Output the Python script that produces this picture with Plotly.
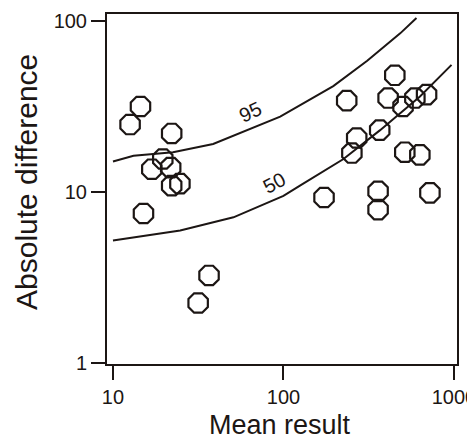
import math
import plotly.graph_objects as go

# Data points (mean result, absolute difference)
mean_result = [12.6, 14.5, 15.1, 16.9, 19.6, 21.8, 22.1, 22.1, 24.7, 36.6, 31.6,
               173, 235, 252, 269, 367, 359, 359, 411, 450, 503, 590, 691, 515, 631, 723]
abs_diff = [24.8, 31.6, 7.5, 13.6, 15.6, 13.9, 22.0, 10.9, 11.2, 3.26, 2.25,
            9.3, 34.2, 16.9, 20.7, 23.0, 10.1, 7.9, 35.4, 48.1, 31.6, 35.4, 37.1, 17.1, 16.5, 9.9]

# 95 percentile curve
c95_x = [10, 13.2, 22.5, 38.7, 95.7, 196, 310, 484, 603]
c95_y = [15.1, 16.3, 17.1, 19.1, 27.6, 41.6, 58.5, 84.5, 104]

# 50 percentile curve
c50_x = [10, 24.8, 50.9, 100, 125, 225, 369, 632, 968]
c50_y = [5.22, 5.97, 7.12, 9.5, 10.9, 15.6, 23.0, 36.2, 55.3]

curve_labels = ["95", "50"]
label_x = [63.8, 88.1]
label_y = [29.5, 11.35]
label_angle = [-25, -28]

x_major = [10, 100, 1000]
x_major_text = ["10", "100", "1000"]
x_minor = [20, 30, 40, 50, 60, 70, 80, 90, 200, 300, 400, 500, 600, 700, 800, 900]
y_major = [1, 10, 100]
y_major_text = ["1", "10", "100"]
y_minor = [2, 3, 4, 5, 6, 7, 8, 9, 20, 30, 40, 50, 60, 70, 80, 90]

X_RANGE = [0.965, 3.018]
Y_RANGE = [-0.004, 2.04]

INK = "#1c1614"
FONT = "Arial, Liberation Sans, sans-serif"

# The page body has an 8px margin; figure is sized so the plot lands in place.
# Width extends past the window so the "1000" label is clipped like the original.
W, H = 490, 432
ML, MR, MT, MB = 99, 41, 6, 76
PW, PH = W - ML - MR, H - MT - MB
XS = (X_RANGE[1] - X_RANGE[0]) / PW   # log units per pixel
YS = (Y_RANGE[1] - Y_RANGE[0]) / PH

fig = go.Figure()
fig.add_trace(go.Scatter(x=c95_x, y=c95_y, mode="lines",
                         line=dict(color=INK, width=2), hoverinfo="skip"))
fig.add_trace(go.Scatter(x=c50_x, y=c50_y, mode="lines",
                         line=dict(color=INK, width=2), hoverinfo="skip"))
fig.add_trace(go.Scatter(x=mean_result, y=abs_diff, mode="markers",
                         marker=dict(symbol="octagon-open", size=21,
                                     color=INK, line=dict(color=INK, width=2.2))))

# minor ticks, placed just outside the axes
fig.add_trace(go.Scatter(x=x_minor, y=[10 ** (Y_RANGE[0] - 5 * YS)] * len(x_minor),
                         mode="markers", cliponaxis=False, hoverinfo="skip",
                         marker=dict(symbol="line-ns", size=8,
                                     line=dict(color=INK, width=2))))
fig.add_trace(go.Scatter(x=[10 ** (X_RANGE[0] - 4.5 * XS)] * len(y_minor), y=y_minor,
                         mode="markers", cliponaxis=False, hoverinfo="skip",
                         marker=dict(symbol="line-ew", size=7,
                                     line=dict(color=INK, width=2))))

for t, lx, ly, ang in zip(curve_labels, label_x, label_y, label_angle):
    fig.add_annotation(x=math.log10(lx), y=math.log10(ly), xref="x", yref="y",
                       text=t, showarrow=False, textangle=ang,
                       font=dict(family=FONT, size=20, color=INK),
                       xanchor="center", yanchor="middle")

# axis titles (positions in viewport pixels relative to plot area)
fig.add_annotation(x=(280 - 107) / PW, y=(364 - 425) / PH, xref="paper", yref="paper",
                   text="Mean result", showarrow=False,
                   font=dict(family=FONT, size=27, color=INK),
                   xanchor="center", yanchor="middle")
fig.add_annotation(x=(26 - 107) / PW, y=(364 - 182) / PH, xref="paper", yref="paper",
                   text="Absolute difference", showarrow=False, textangle=-90,
                   font=dict(family=FONT, size=30, color=INK),
                   xanchor="center", yanchor="middle")

axis_common = dict(type="log", showgrid=False, zeroline=False, showline=True,
                   linecolor=INK, linewidth=2, mirror=True, ticks="outside",
                   tickmode="array", ticklen=14, tickwidth=2, tickcolor=INK,
                   tickfont=dict(family=FONT, size=20, color=INK))

fig.update_xaxes(range=X_RANGE, tickvals=x_major, ticktext=x_major_text, **axis_common)
fig.update_yaxes(range=Y_RANGE, tickvals=y_major, ticktext=y_major_text, **axis_common)

fig.update_layout(width=W, height=H, showlegend=False,
                  margin=dict(l=ML, r=MR, t=MT, b=MB, autoexpand=False),
                  plot_bgcolor="white", paper_bgcolor="white")

fig.write_html("out.html")
